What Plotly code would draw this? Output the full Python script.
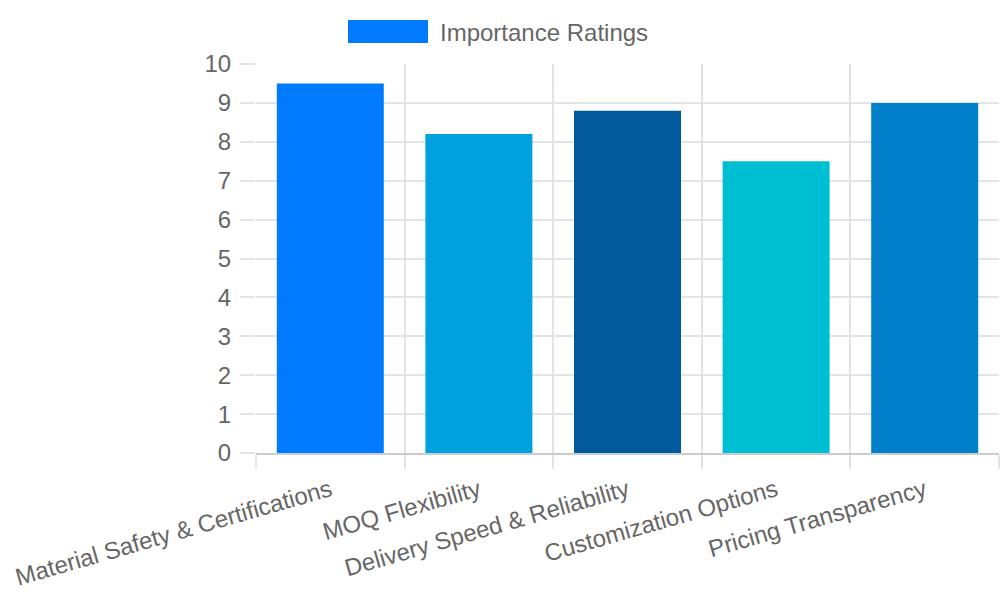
import plotly.graph_objects as go

categories = ["Material Safety & Certifications", "MOQ Flexibility",
              "Delivery Speed & Reliability", "Customization Options",
              "Pricing Transparency"]
ratings = [9.5, 8.2, 8.8, 7.5, 9.0]
bar_colors = ["#007bff", "#00a1dd", "#005a9c", "#00bfd3", "#007fcb"]
series_name = "Importance Ratings"
y_ticks = [0, 1, 2, 3, 4, 5, 6, 7, 8, 9, 10]

FONT = "Liberation Sans, Arial, sans-serif"
GRID = "#e4e4e4"

fig = go.Figure()
fig.add_trace(go.Bar(
    x=categories, y=ratings, name=series_name,
    marker=dict(color=bar_colors, line=dict(width=0)),
    showlegend=False,
))

fig.update_layout(
    width=1000, height=600,
    margin=dict(l=256, r=1, t=64, b=147),
    paper_bgcolor="white", plot_bgcolor="white",
    font=dict(family=FONT, size=24, color="#666666"),
    bargap=0.28,
    xaxis=dict(
        tickangle=-16, tickson="boundaries", ticks="outside", ticklen=14,
        tickcolor=GRID, tickwidth=2, showgrid=True, gridcolor=GRID, gridwidth=2,
        showline=True, linecolor="#cccccc", linewidth=2,
        ticklabelstandoff=12,
        tickfont=dict(size=24, color="#666666"),
    ),
    yaxis=dict(
        range=[0, 10], tickmode="array", tickvals=y_ticks,
        ticks="outside", ticklen=15, tickcolor=GRID, tickwidth=2,
        showgrid=True, gridcolor=GRID, gridwidth=2, zeroline=False,
        showline=False, ticklabelstandoff=4,
        tickfont=dict(size=24, color="#666666"),
    ),
)

# legend drawn manually (wide colour box like the reference)
fig.add_shape(type="rect", xref="paper", yref="paper",
              x0=(348 - 256) / 743, x1=(428 - 256) / 743,
              y0=(453 - 43) / 389, y1=(453 - 20) / 389,
              fillcolor=bar_colors[0], line=dict(width=0))
fig.add_annotation(xref="paper", yref="paper",
                   x=(438 - 256) / 743, y=(453 - 32) / 389,
                   xanchor="left", yanchor="middle", showarrow=False,
                   text=series_name, font=dict(size=24, color="#666666"))

fig.write_html("out.html")
